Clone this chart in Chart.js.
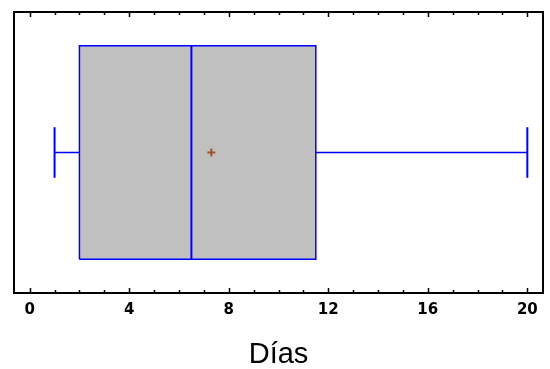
<!DOCTYPE html>
<html>
<head>
<meta charset="utf-8">
<script src="https://cdn.jsdelivr.net/npm/chart.js@4/dist/chart.umd.min.js"></script>
<style>
  html, body { margin: 0; padding: 0; background: #ffffff; }
  #wrap { width: 550px; height: 369px; }
</style>
</head>
<body>
<div id="wrap"><canvas id="c" width="550" height="369"></canvas></div>
<script>
// ---- data ----
const axisTitle = 'Días';
const minValue = [1];
const q1Value = [2];
const medianValue = [6.5];
const meanValue = [7.3];
const q3Value = [11.5];
const maxValue = [20];
const tickValues = [0, 4, 8, 12, 16, 20];
const minorTickValues = [0,1,2,3,4,5,6,7,8,9,10,11,12,13,14,15,16,17,18,19,20];

// ---- layout constants (vertical placement in a 0..1 band) ----
const BOX_LO = 0.12, BOX_HI = 0.88, MID = 0.5, CAP_LO = 0.41, CAP_HI = 0.59;
const BLUE = '#0000ff';

const boxPoly = [
  {x: q1Value[0], y: BOX_LO}, {x: q3Value[0], y: BOX_LO},
  {x: q3Value[0], y: BOX_HI}, {x: q1Value[0], y: BOX_HI},
  {x: q1Value[0], y: BOX_LO}
];

const lineDs = (data, width, order) => ({
  data, showLine: true, borderColor: BLUE, borderWidth: width,
  pointRadius: 0, fill: false, order, tension: 0
});

const frameTicks = {
  id: 'frameTicks',
  afterDraw(chart) {
    const {ctx, chartArea: a, scales: {x}} = chart;
    ctx.save();
    ctx.strokeStyle = '#000';
    ctx.lineWidth = 1.5;
    ctx.beginPath();
    minorTickValues.forEach(v => {
      const px = Math.round(x.getPixelForValue(v)) + 0.5;
      const len = tickValues.includes(v) ? 5 : 3;
      ctx.moveTo(px, a.bottom); ctx.lineTo(px, a.bottom - len);
      ctx.moveTo(px, a.top); ctx.lineTo(px, a.top + len);
    });
    ctx.stroke();
    ctx.lineWidth = 2;
    ctx.strokeStyle = '#000';
    ctx.strokeRect(a.left, a.top, a.right - a.left, a.bottom - a.top);
    ctx.restore();
  }
};

new Chart(document.getElementById('c'), {
  type: 'scatter',
  data: {
    datasets: [
      { data: [{x: meanValue[0], y: MID}], pointStyle: 'cross', pointRadius: 4,
        borderColor: '#a0522d', backgroundColor: '#a0522d', pointBorderWidth: 2, order: 0 },
      lineDs([{x: medianValue[0], y: BOX_LO}, {x: medianValue[0], y: BOX_HI}], 2, 1),
      lineDs([{x: minValue[0], y: CAP_LO}, {x: minValue[0], y: CAP_HI}], 2, 1),
      lineDs([{x: maxValue[0], y: CAP_LO}, {x: maxValue[0], y: CAP_HI}], 2, 1),
      lineDs([{x: minValue[0], y: MID}, {x: q1Value[0], y: MID}], 1.5, 1),
      lineDs([{x: q3Value[0], y: MID}, {x: maxValue[0], y: MID}], 1.5, 1),
      { data: boxPoly, showLine: true, fill: 'shape', backgroundColor: '#c0c0c0',
        borderColor: BLUE, borderWidth: 1.5, pointRadius: 0, tension: 0, order: 5 }
    ]
  },
  options: {
    responsive: false,
    animation: false,
    devicePixelRatio: 1,
    layout: { padding: { left: 14, right: 7, top: 12, bottom: 0 } },
    plugins: { legend: { display: false }, tooltip: { enabled: false } },
    scales: {
      x: {
        type: 'linear', position: 'bottom', min: -0.63, max: 20.63,
        afterBuildTicks: s => { s.ticks = tickValues.map(v => ({value: v})); },
        grid: { display: false, drawTicks: false },
        border: { display: false },
        ticks: {
          padding: 8, color: '#000', maxRotation: 0, autoSkip: false,
          font: { family: 'DejaVu Sans', size: 15, weight: 'bold', lineHeight: 1.2 }
        },
        title: {
          display: true, text: axisTitle, color: '#000',
          font: { family: 'Liberation Sans', size: 29, lineHeight: 1 },
          padding: { top: 13, bottom: 0 }
        }
      },
      y: { type: 'linear', min: 0, max: 1, display: false }
    }
  },
  plugins: [frameTicks]
});
</script>
</body>
</html>
